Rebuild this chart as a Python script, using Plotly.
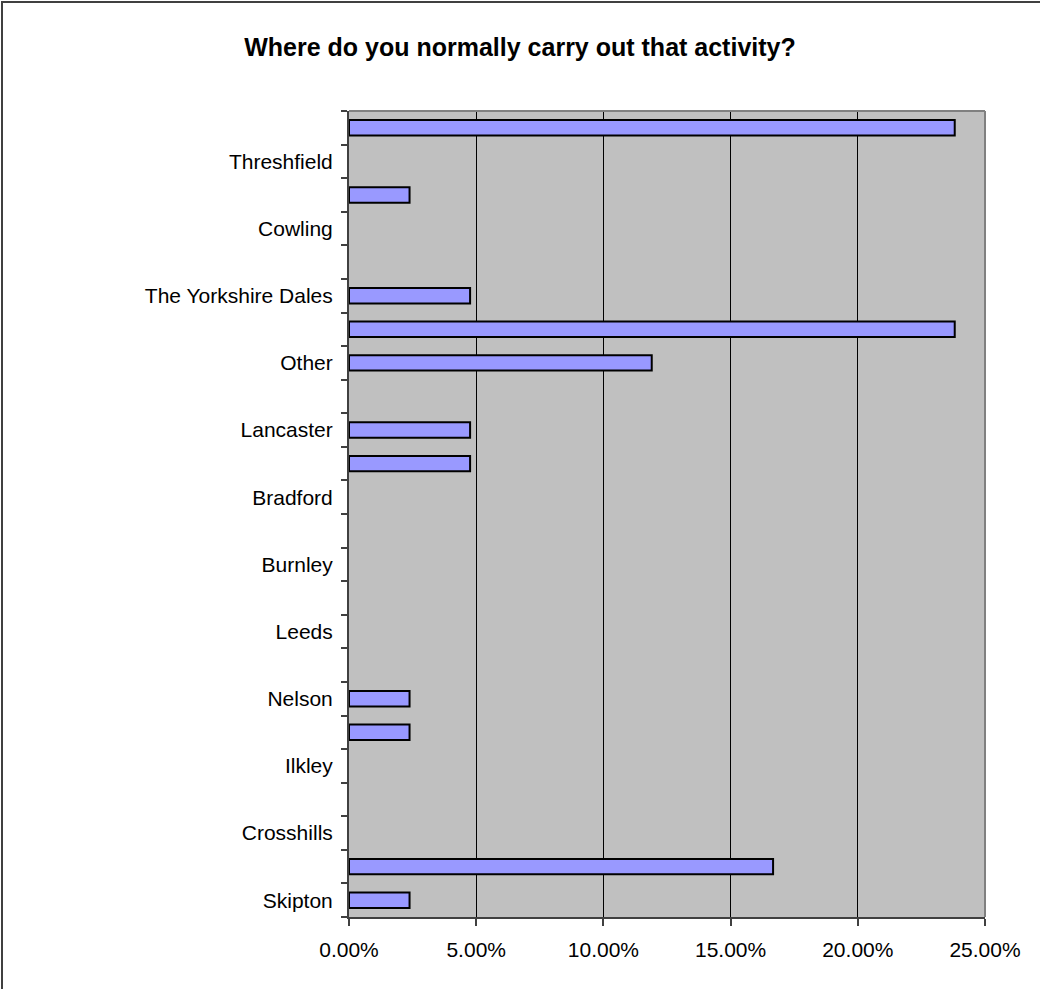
import plotly.graph_objects as go

# Categories listed bottom -> top (blank = label not displayed in the original)
categories = [
    "Skipton", "", "Crosshills", "", "Ilkley", "", "Nelson", "", "Leeds", "",
    "Burnley", "", "Bradford", "", "Lancaster", "", "Other", "",
    "The Yorkshire Dales", "", "Cowling", "", "Threshfield", "",
]
values = [
    0.0238, 0.1667, 0.0, 0.0, 0.0, 0.0238, 0.0238, 0.0, 0.0, 0.0,
    0.0, 0.0, 0.0, 0.0476, 0.0476, 0.0, 0.1190, 0.2381,
    0.0476, 0.0, 0.0, 0.0238, 0.0, 0.2381,
]
x_ticks = [0.0, 0.05, 0.10, 0.15, 0.20, 0.25]
title_text = "Where do you normally carry out that activity?"

positions = list(range(len(categories)))
outline_widths = [2 if v > 0 else 0 for v in values]

FONT = "Liberation Sans, Arial, sans-serif"

fig = go.Figure(
    go.Bar(
        x=values,
        y=positions,
        orientation="h",
        width=0.46,
        marker=dict(color="#9999FF", line=dict(color="#000000", width=outline_widths)),
        hoverinfo="x+text",
        text=categories,
        textposition="none",
    )
)

W, H = 1040, 989
L, R, T, B = 349, 55, 111, 72
pw, ph = W - L - R, H - T - B

fig.update_layout(
    width=W,
    height=H,
    margin=dict(l=L, r=R, t=T, b=B, pad=0),
    paper_bgcolor="white",
    plot_bgcolor="#C0C0C0",
    showlegend=False,
    font=dict(family=FONT, size=21, color="black"),
    title=dict(
        text="<b>" + title_text + "</b>",
        font=dict(family=FONT, size=25, color="black"),
        x=0.5,
        xref="container",
        xanchor="center",
        y=1 - 47 / H,
        yref="container",
        yanchor="middle",
    ),
    xaxis=dict(
        range=[0, 0.25],
        tickmode="array",
        tickvals=x_ticks,
        tickformat=".2%",
        ticks="outside",
        ticklen=7,
        tickwidth=1.5,
        tickcolor="#404040",
        ticklabelstandoff=6,
        showgrid=True,
        gridcolor="#000000",
        gridwidth=1,
        zeroline=False,
        showline=True,
        linecolor="#404040",
        linewidth=2,
        fixedrange=True,
    ),
    yaxis=dict(
        range=[-0.5, len(categories) - 0.5],
        tickmode="array",
        tickvals=positions,
        ticktext=categories,
        ticks="outside",
        ticklen=6,
        tickcolor="rgba(0,0,0,0)",
        ticklabelstandoff=4,
        showgrid=False,
        zeroline=False,
        showline=True,
        linecolor="#404040",
        linewidth=2,
        minor=dict(
            tickmode="array",
            tickvals=[p - 0.5 for p in positions] + [len(categories) - 0.5],
            ticks="outside",
            ticklen=6,
            tickwidth=1.5,
            tickcolor="#404040",
            showgrid=False,
        ),
        fixedrange=True,
    ),
    shapes=[
        # plot-area border (top and right, grey)
        dict(type="line", xref="paper", yref="paper", x0=0, x1=1, y0=1, y1=1,
             line=dict(color="#808080", width=2), layer="above"),
        dict(type="line", xref="paper", yref="paper", x0=1, x1=1, y0=0, y1=1,
             line=dict(color="#808080", width=2), layer="above"),
        # outer chart border (only top and left edges fall inside the picture)
        dict(type="rect", xref="paper", yref="paper",
             x0=(2 - L) / pw, x1=(W + 20 - L) / pw,
             y0=-(B + 20) / ph, y1=(H - B - 2) / ph,
             line=dict(color="#404040", width=2), layer="above"),
    ],
)

fig.write_html(
    "out.html",
    config={"displayModeBar": False},
    post_script="document.body.style.margin='0';document.body.style.overflow='hidden';",
)
